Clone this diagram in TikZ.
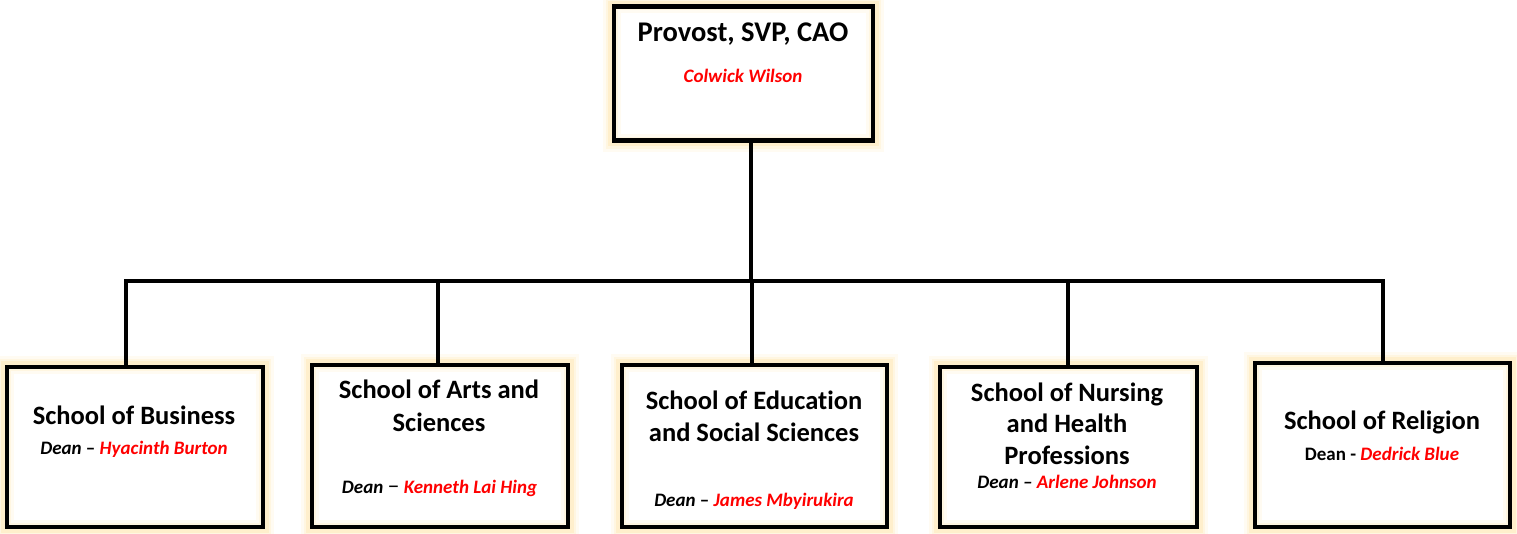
\documentclass[tikz,border=0pt]{standalone}
\usepackage{fontspec}
\setmainfont{Carlito}[Ligatures=NoCommon]
\pgfdeclarelayer{background}
\pgfsetlayers{background,main}
\definecolor{glowc}{RGB}{255,218,130}
\definecolor{redname}{RGB}{255,0,0}
\tikzset{
  box/.style={draw=black, line width=4.5pt, rectangle, inner sep=0pt},
  glowa/.style={draw=glowc, line width=18pt, opacity=0.10},
  glowb/.style={draw=glowc, line width=12pt, opacity=0.15},
  glowc/.style={draw=glowc, line width=7pt, opacity=0.22},
  ttl/.style={anchor=base, inner sep=0pt, font=\bfseries\fontsize{26.5}{30}\selectfont},
  dean/.style={anchor=base, inner sep=0pt, font=\bfseries\itshape\fontsize{19}{22}\selectfont},
  conn/.style={draw=black, line width=4.5pt, line cap=rect},
}
\newcommand{\nm}[1]{\textcolor{redname}{#1}}
\begin{document}
\begin{tikzpicture}[x=1pt,y=-1pt]
\useasboundingbox (0,0) rectangle (1517,534);
% boxes
\node[box, minimum width=259pt, minimum height=134pt] (prov) at (743.5,73.5) {};
\node[box, minimum width=256pt, minimum height=160pt] (b1) at (135,447) {};
\node[box, minimum width=256pt, minimum height=162pt] (b2) at (440,446) {};
\node[box, minimum width=265pt, minimum height=162pt] (b3) at (754.5,446) {};
\node[box, minimum width=257pt, minimum height=160pt] (b4) at (1068.5,447) {};
\node[box, minimum width=255pt, minimum height=164pt] (b5) at (1382.5,445) {};
% glow
\begin{pgfonlayer}{background}
\fill[white] (0,0) rectangle (1517,534);
\foreach \n in {prov,b1,b2,b3,b4,b5}{
  \draw[glowa] (\n.south west) rectangle (\n.north east);
  \draw[glowb] (\n.south west) rectangle (\n.north east);
  \draw[glowc] (\n.south west) rectangle (\n.north east);
}
\end{pgfonlayer}
% connectors
\coordinate (bus) at (751,281);
\draw[conn] ([xshift=7.5pt]prov.south) -- (bus);
\draw[conn] ([xshift=-9pt]b1.north) |- (bus) -| ([xshift=0.5pt]b5.north);
\draw[conn] ([xshift=-2pt]b2.north) -- ([xshift=-2pt]b2.north |- bus);
\draw[conn] ([xshift=-2.5pt]b3.north) -- ([xshift=-2.5pt]b3.north |- bus);
\draw[conn] ([xshift=-0.5pt]b4.north) -- ([xshift=-0.5pt]b4.north |- bus);
% texts
\node[ttl, font=\bfseries\fontsize{28.5}{30}\selectfont] (t0) at (743,42) {Provost, SVP, CAO};
\node[dean] (n0) at (743,83) {\nm{Colwick Wilson}};

\node[ttl] (t1) at (134,424) {School of Business};
\node[dean] (n1) at (134,454) {Dean \textup{–} \nm{Hyacinth Burton}};

\node[ttl] (t2a) at (439,398) {School of Arts and};
\node[ttl] (t2b) at (439,431) {Sciences};
\node[dean] (n2) at (439.5,493) {Dean {\mdseries\upshape\fontsize{24}{24}\selectfont –} \nm{Kenneth Lai Hing}};

\node[ttl] (t3a) at (754,409) {School of Education};
\node[ttl] (t3b) at (754,441) {and Social Sciences};
\node[dean] (n3) at (754,506) {Dean \textup{–} \nm{James Mbyirukira}};

\node[ttl] (t4a) at (1067,401) {School of Nursing};
\node[ttl] (t4b) at (1067,432) {and Health};
\node[ttl] (t4c) at (1067,464) {Professions};
\node[dean] (n4) at (1067,488) {Dean – \nm{Arlene Johnson}};

\node[ttl] (t5) at (1382,429) {School of Religion};
\node[dean] (n5) at (1382,460) {\upshape Dean - \nm{\itshape Dedrick Blue}};
\end{tikzpicture}
\end{document}
